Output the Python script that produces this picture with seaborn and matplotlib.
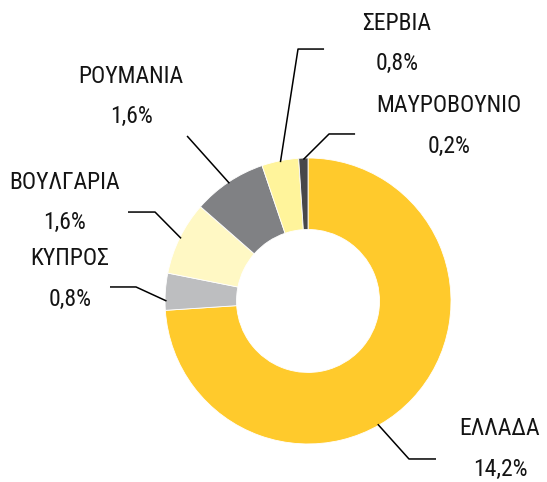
import numpy as np
import matplotlib
matplotlib.use("Agg")
import matplotlib.pyplot as plt
import seaborn as sns

# Data
countries = ["ΕΛΛΑΔΑ", "ΚΥΠΡΟΣ", "ΒΟΥΛΓΑΡΙΑ", "ΡΟΥΜΑΝΙΑ", "ΣΕΡΒΙΑ", "ΜΑΥΡΟΒΟΥΝΙΟ"]
shares = [14.2, 0.8, 1.6, 1.6, 0.8, 0.2]
value_labels = ["14,2%", "0,8%", "1,6%", "1,6%", "0,8%", "0,2%"]
colors = ["#FFCA2C", "#BDBEC0", "#FFF8C4", "#808184", "#FFF49B", "#47474A"]

sns.set_theme(style="white")
plt.rcParams["font.family"] = ["Roboto Condensed", "DejaVu Sans"]

fig = plt.figure(figsize=(5.47, 4.82), dpi=100)
ax = fig.add_axes([0, 0, 1, 1])

wedges, _ = ax.pie(shares, colors=colors, startangle=90, counterclock=False,
                   radius=1.0, wedgeprops=dict(width=0.5, edgecolor="white", linewidth=0.6))

ax.set_xlim(-2.154, 1.671)
ax.set_ylim(-1.266, 2.105)
ax.set_aspect("equal")
ax.axis("off")

# leader lines and label spots, in units of the outer radius
layout = {
    "ΕΛΛΑΔΑ": dict(ang=-60.5, elbow=(0.706, -1.105), end=(0.895, -1.105), text=(1.343, -1.035)),
    "ΚΥΠΡΟΣ": dict(ang=180.0, elbow=(-1.203, 0.098), end=(-1.385, 0.098), text=(-1.664, 0.154)),
    "ΒΟΥΛΓΑΡΙΑ": dict(ang=None, elbow=(-1.070, 0.622), end=(-1.259, 0.622), text=(-1.706, 0.689)),
    "ΡΟΥΜΑΝΙΑ": dict(ang=None, elbow=(-0.846, 1.154), end=None, text=(-1.238, 1.430)),
    "ΣΕΡΒΙΑ": dict(ang=None, elbow=(-0.070, 1.762), end=(0.112, 1.762), text=(0.622, 1.804)),
    "ΜΑΥΡΟΒΟΥΝΙΟ": dict(ang=None, elbow=(0.147, 1.168), end=(0.329, 1.168), text=(0.986, 1.224)),
}

for w, name, val in zip(wedges, countries, value_labels):
    spec = layout[name]
    ang = spec["ang"] if spec["ang"] is not None else (w.theta1 + w.theta2) / 2
    a = np.deg2rad(ang)
    x0, y0 = 0.99 * np.cos(a), 0.99 * np.sin(a)
    xs, ys = [x0, spec["elbow"][0]], [y0, spec["elbow"][1]]
    if spec["end"] is not None:
        xs.append(spec["end"][0])
        ys.append(spec["end"][1])
    ax.plot(xs, ys, color="black", lw=1.1, solid_capstyle="butt")
    tx, ty = spec["text"]
    kw = dict(ha="center", va="center", fontsize=17, fontweight="normal", color="#141414")
    ax.text(tx, ty + 0.14, name, **kw)
    ax.text(tx, ty - 0.14, val, **kw)

fig.savefig("out.png", dpi=100)
